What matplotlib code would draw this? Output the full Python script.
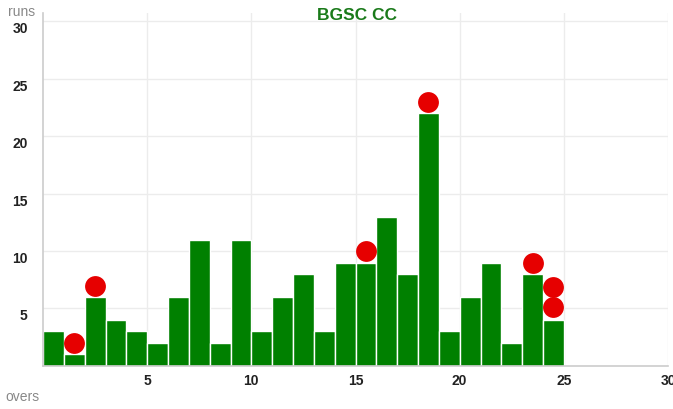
import numpy as np
from matplotlib import pyplot as plt

plt.rcParams['font.family'] = ['Liberation Sans', 'DejaVu Sans']

# runs per over
overs = list(range(1, 26))
runs = [3, 1, 6, 4, 3, 2, 6, 11, 2, 11, 3, 6, 8, 3, 9, 9, 13, 8, 22, 3, 6, 9, 2, 8, 4]

# wickets: over and marker height
wkt_overs = [2, 3, 16, 19, 24, 25, 25]
wkt_y = [2, 7, 10, 23, 9, 5.1, 6.9]

xticks = [5, 10, 15, 20, 25, 30]
yticks = [5, 10, 15, 20, 25, 30]

fig = plt.figure(figsize=(6.73, 4.10), dpi=100)
ax = fig.add_axes([0.0639, 0.1049, 0.9287, 0.861])

ax.bar(np.array(overs) - 0.5, runs, width=1.0, color='#008000',
       edgecolor='white', linewidth=1, zorder=2)
ax.scatter(np.array(wkt_overs) - 0.5, wkt_y, s=225, color='#e60000',
           linewidths=0, zorder=3)

ax.set_xlim(0, 30)
ax.set_ylim(0, 30.7)
ax.set_xticks(xticks)
ax.set_yticks(yticks)
ax.tick_params(length=0, labelsize=10, colors='#222222')
ax.tick_params(axis='y', pad=11)
ax.tick_params(axis='x', pad=5)
for lab in ax.get_yticklabels():
    lab.set_fontweight('bold')
    lab.set_va('top')
for lab in ax.get_xticklabels():
    lab.set_fontweight('bold')

ax.grid(True, color='#ececec', linewidth=1, zorder=0)
ax.set_axisbelow(True)
for side in ['top', 'right']:
    ax.spines[side].set_visible(False)
for side in ['left', 'bottom']:
    ax.spines[side].set_color('#cccccc')
    ax.spines[side].set_linewidth(1.2)

fig.text(8 / 673, 1 - 12 / 410, 'runs', color='#888888', fontsize=10,
         va='center', ha='left')
fig.text(5 / 673, 1 - 397 / 410, 'overs', color='#888888', fontsize=10,
         va='center', ha='left')
fig.text(357 / 673, 1 - 16 / 410, 'BGSC CC', color='#1a7a1a', fontsize=12.5,
         fontweight='bold', va='center', ha='center')

fig.savefig('out.png', dpi=100)
